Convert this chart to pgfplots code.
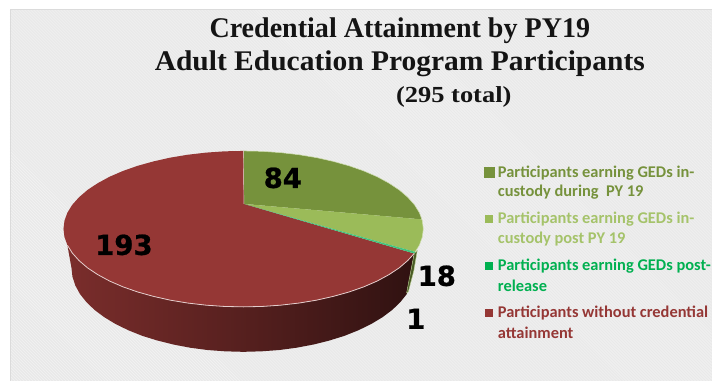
\documentclass[border=0pt]{standalone}
\usepackage{fontspec}
\usepackage{pgfplots}
\pgfplotsset{compat=1.18}
\usetikzlibrary{patterns}
\setmainfont{Liberation Serif}
\newfontfamily\legendfont{Carlito}
\newfontfamily\valuefont[BoldFeatures={FakeBold=0.8}]{DejaVu Sans}
\definecolor{gedDuring}{HTML}{76923C}
\definecolor{gedPost}{HTML}{9BBB59}
\definecolor{gedPostText}{HTML}{A5C36A}
\definecolor{gedRelease}{HTML}{00B050}
\definecolor{noCredential}{HTML}{953735}
\definecolor{panel}{HTML}{E9E9E9}
\definecolor{panelStripe}{HTML}{F5F5F5}
\begin{document}
\begin{tikzpicture}
\begin{axis}[
  scale only axis, width=712pt, height=381pt,
  xmin=0, xmax=712, ymin=0, ymax=381, y dir=reverse,
  hide axis, clip=false,
  legend style={draw=none}
]
% page and textured panel
\path (axis cs:0,0) rectangle (axis cs:712,381);
\fill[panel] (axis cs:10,9) rectangle (axis cs:712,381);
\fill[pattern=north west lines, pattern color=panelStripe] (axis cs:10,9) rectangle (axis cs:712,381);
\draw[color=black!14, line width=0.7pt] (axis cs:10,381) -- (axis cs:10,9) -- (axis cs:712,9);

% rim of the disc, darkening from left to right
\addplot[draw=none, left color=noCredential!82!black, right color=noCredential!32!black, middle color=noCredential!58!black, forget plot] coordinates {
 (414.4,253.6) (414.7,253.1) (407.9,260.7) (399.4,268) (389.1,274.8) (377.3,281.2) (363.9,287) (349.3,292.1)
 (333.5,296.5) (316.7,300.3) (299.1,303.2) (280.9,305.3) (262.3,306.6) (243.5,307)
 (224.7,306.6) (206.1,305.3) (187.9,303.2) (170.3,300.3) (153.5,296.5) (137.7,292.1) (123.1,287)
 (109.7,281.2) (97.9,274.8) (87.6,268) (79.1,260.7) (72.3,253.1) (67.4,245.2)
 (71.5,268) (72.5,276.8) (75.3,285.5) (79.9,294) (86.4,302.2) (94.5,310) (104.4,317.4) (115.7,324.2)
 (128.4,330.4) (142.4,336) (157.5,340.7) (173.5,344.7) (190.4,347.9) (207.7,350.2) (225.5,351.5) (243.5,352)
 (261.5,351.5) (279.3,350.2) (296.6,347.9) (313.5,344.7) (329.5,340.7) (344.6,336) (358.6,330.4)
 (371.3,324.2) (382.6,317.4) (392.5,310) (400.6,302.2) (407.1,294)
} --cycle;
% narrow green rim at the right end
\addplot[fill=gedDuring!62!black, draw=gedPost!60!white, line width=0.4pt, forget plot] coordinates {
 (414.4,253.6) (417.5,250.5) (414,271) (408.5,292) (406.8,293)
} --cycle;

% top faces: 84, 18, 1 and 193 participants, clockwise from twelve o'clock
\addplot[fill=gedDuring, draw=none, forget plot] coordinates {
 (244,204) (243.5,151) (262.3,151.4) (280.9,152.7) (299.1,154.8) (316.7,157.7) (333.5,161.5) (349.3,165.9)
 (363.9,171) (377.3,176.8) (389.1,183.2) (399.4,190) (407.9,197.3) (414.7,204.9) (419.6,212.8) (422.1,219.5)
} --cycle;
\addplot[fill=gedPost, draw=none, forget plot] coordinates {
 (244,204) (422.1,219.5) (422.5,220.85) (423.5,229) (422.5,237.15) (419.6,245.2) (415.4,252)
} --cycle;
\addplot[fill=noCredential, draw=none, forget plot] coordinates {
 (244,204) (414.4,253.6) (414.7,253.1) (407.9,260.7) (399.4,268) (389.1,274.8) (377.3,281.2) (363.9,287) (349.3,292.1)
 (333.5,296.5) (316.7,300.3) (299.1,303.2) (280.9,305.3) (262.3,306.6) (243.5,307)
 (224.7,306.6) (206.1,305.3) (187.9,303.2) (170.3,300.3) (153.5,296.5) (137.7,292.1) (123.1,287)
 (109.7,281.2) (97.9,274.8) (87.6,268) (79.1,260.7) (72.3,253.1) (67.4,245.2) (64.5,237.15) (63.5,229)
 (64.5,220.85) (67.4,212.8) (72.3,204.9) (79.1,197.3) (87.6,190) (97.9,183.2) (109.7,176.8) (123.1,171)
 (137.7,165.9) (153.5,161.5) (170.3,157.7) (187.9,154.8) (206.1,152.7) (224.7,151.4) (243.5,151)
} --cycle;
\addplot[fill=gedRelease!75!white, draw=none, forget plot] coordinates {
 (244,204) (415.4,252) (414.4,253.6)
} --cycle;

% pale edge along the front of the disc and round the green faces
\addplot[color=noCredential!25!white, line width=0.8pt, forget plot] coordinates {
 (414.4,253.6) (407.9,260.7) (399.4,268) (389.1,274.8) (377.3,281.2) (363.9,287) (349.3,292.1)
 (333.5,296.5) (316.7,300.3) (299.1,303.2) (280.9,305.3) (262.3,306.6) (243.5,307)
 (224.7,306.6) (206.1,305.3) (187.9,303.2) (170.3,300.3) (153.5,296.5) (137.7,292.1) (123.1,287)
 (109.7,281.2) (97.9,274.8) (87.6,268) (79.1,260.7) (72.3,253.1) (67.4,245.2)
};
\addplot[color=gedPost!45!white, line width=0.5pt, forget plot] coordinates {
 (243.5,151) (262.3,151.4) (280.9,152.7) (299.1,154.8) (316.7,157.7) (333.5,161.5) (349.3,165.9)
 (363.9,171) (377.3,176.8) (389.1,183.2) (399.4,190) (407.9,197.3) (414.7,204.9) (419.6,212.8)
 (422.5,220.85) (423.5,229) (422.5,237.15) (419.6,245.2) (415.4,252)
};
\addplot[color=white!75!noCredential, line width=0.4pt, forget plot] coordinates {(244,204) (243.5,151)};

% legend swatches
\addplot[only marks, mark=square*, mark size=5pt, color=gedDuring, forget plot] coordinates {(489,172)};
\addplot[only marks, mark=square*, mark size=3.6pt, color=gedPost, forget plot] coordinates {(489,219)};
\addplot[only marks, mark=square*, mark size=3.3pt, color=gedRelease, forget plot] coordinates {(489,266)};
\addplot[only marks, mark=square*, mark size=3.3pt, color=noCredential, forget plot] coordinates {(489,313)};

% title
\node[font=\bfseries\fontsize{28.5}{28.5}\selectfont, text=black!92, xscale=0.985] at (axis cs:400,31) {Credential Attainment by PY19};
\node[font=\bfseries\fontsize{28.5}{28.5}\selectfont, text=black!92, xscale=1.035] at (axis cs:400,64) {Adult Education Program Participants};
\node[font=\bfseries\fontsize{23}{23}\selectfont, text=black!92, xscale=1.15] at (axis cs:454,97) {(295 total)};

% slice values
\node[font=\valuefont\bfseries\fontsize{27.5}{27.5}\selectfont] at (axis cs:283,178) {84};
\node[font=\valuefont\bfseries\fontsize{27.5}{27.5}\selectfont] at (axis cs:124,245) {193};
\node[font=\valuefont\bfseries\fontsize{27.5}{27.5}\selectfont] at (axis cs:437,276) {18};
\node[font=\valuefont\bfseries\fontsize{27.5}{27.5}\selectfont] at (axis cs:416,319) {1};

% legend entries
\tikzset{entry/.style={anchor=west, inner sep=0pt, font=\legendfont\bfseries\fontsize{16.4}{16.4}\selectfont}}
\node[entry, text=gedDuring] at (axis cs:498,173) {Participants earning GEDs in-};
\node[entry, text=gedDuring] at (axis cs:498,192) {custody during\ \ PY 19};
\node[entry, text=gedPostText] at (axis cs:498,219) {Participants earning GEDs in-};
\node[entry, text=gedPostText] at (axis cs:498,239) {custody post PY 19};
\node[entry, text=gedRelease] at (axis cs:498,266) {Participants earning GEDs post-};
\node[entry, text=gedRelease] at (axis cs:498,286) {release};
\node[entry, text=noCredential] at (axis cs:498,313) {Participants without credential};
\node[entry, text=noCredential] at (axis cs:498,333) {attainment};
\end{axis}
\end{tikzpicture}
\end{document}
